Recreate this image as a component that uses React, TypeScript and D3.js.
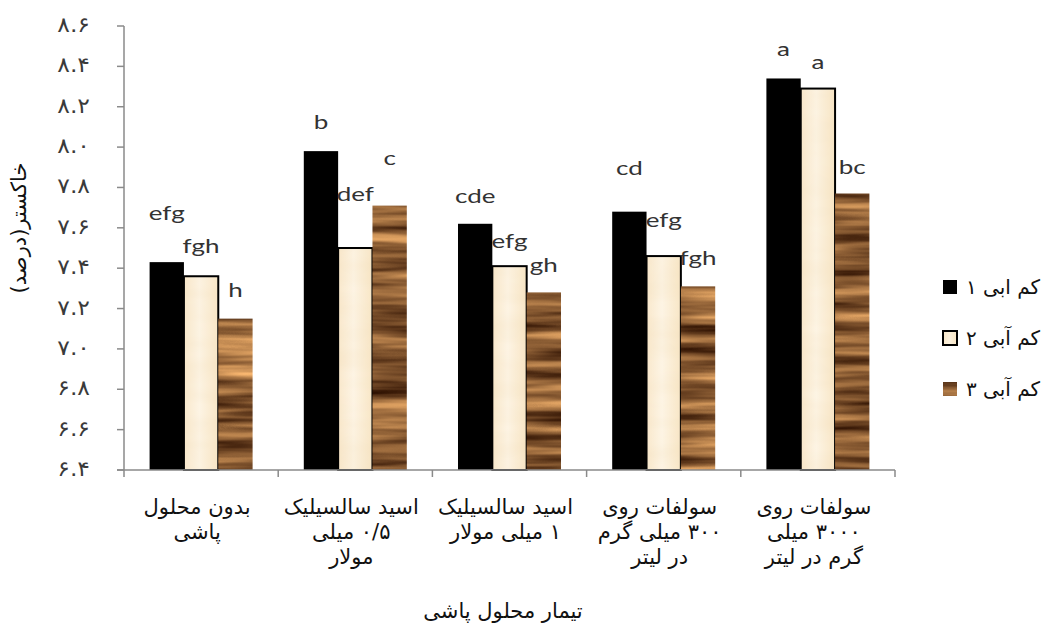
import React from "react";
import * as d3 from "d3";

// ---------- data ----------
const categories: string[][] = [
  ["بدون محلول", "پاشی"],
  ["اسید سالسیلیک", "۰/۵ میلی", "مولار"],
  ["اسید سالسیلیک", "۱ میلی مولار"],
  ["سولفات روی", "۳۰۰ میلی گرم", "در لیتر"],
  ["سولفات روی", "۳۰۰۰ میلی", "گرم در لیتر"],
];
const seriesNames = ["کم ابی ۱", "کم آبی ۲", "کم آبی ۳"];
const stress1 = [7.43, 7.98, 7.62, 7.68, 8.34];
const stress2 = [7.36, 7.5, 7.41, 7.46, 8.29];
const stress3 = [7.15, 7.71, 7.28, 7.31, 7.77];
const letters1 = ["efg", "b", "cde", "cd", "a"];
const letters2 = ["fgh", "def", "efg", "efg", "a"];
const letters3 = ["h", "c", "gh", "fgh", "bc"];
const yTicks = [6.4, 6.6, 6.8, 7.0, 7.2, 7.4, 7.6, 7.8, 8.0, 8.2, 8.4, 8.6];
const yTickLabels = ["۶.۴", "۶.۶", "۶.۸", "۷.۰", "۷.۲", "۷.۴", "۷.۶", "۷.۸", "۸.۰", "۸.۲", "۸.۴", "۸.۶"];
const yTitle = "خاکستر(درصد)";
const xTitle = "تیمار محلول پاشی";

// ---------- layout (manual label lifts, px above bar top) ----------
const labelLift = [
  [42, 22, 21, 37, 22],
  [23, 47, 18, 29, 20],
  [22, 41, 20, 21, 20],
];

const W = 1057;
const H = 637;
const left = 124;
const right = 895;
const top = 26;
const bottom = 470;
const axisColor = "#8a8a8a";
const STRETCH = 1.3;
const faFont = "'DejaVu Sans', sans-serif";

export default function App() {
  const series = [stress1, stress2, stress3];
  const letters = [letters1, letters2, letters3];
  const x0 = d3
    .scaleBand<number>()
    .domain(d3.range(categories.length))
    .range([left, right])
    .paddingInner(0.332)
    .paddingOuter(0.166);
  const x1 = d3
    .scaleBand<number>()
    .domain(d3.range(series.length))
    .range([0, x0.bandwidth()]);
  const y = d3.scaleLinear().domain([6.4, 8.6]).range([bottom, top]);
  const step = (right - left) / categories.length;
  const fills = ["#000000", "url(#creamGrad)", "#8a5a30"];
  const filters = [undefined, "url(#creamTex)", "url(#woodTex)"];

  return (
    <div style={{ position: "absolute", left: 0, top: 0, background: "#fff" }}>
      <svg width={W} height={H} viewBox={`0 0 ${W} ${H}`} style={{ display: "block" }}>
        <defs>
          <linearGradient id="creamGrad" x1="0" x2="1" y1="0" y2="0">
            <stop offset="0" stopColor="#f9e8cc" />
            <stop offset="0.45" stopColor="#fdf4e4" />
            <stop offset="1" stopColor="#f8e6c6" />
          </linearGradient>
          <filter id="woodTex" x="0" y="0" width="100%" height="100%" colorInterpolationFilters="sRGB">
            <feTurbulence type="fractalNoise" baseFrequency="0.006 0.09" numOctaves={3} seed={11} result="n" />
            <feColorMatrix
              in="n"
              type="matrix"
              values="1.1 0 0 0 -0.01  0.9 0 0 0 -0.09  0.6 0 0 0 -0.1  0 0 0 0 1"
              result="c"
            />
            <feComposite in="c" in2="SourceAlpha" operator="in" />
          </filter>
          <filter id="creamTex" x="0" y="0" width="100%" height="100%" colorInterpolationFilters="sRGB">
            <feTurbulence type="fractalNoise" baseFrequency="0.01 0.05" numOctaves={2} seed={3} result="n" />
            <feColorMatrix
              in="n"
              type="matrix"
              values="0 0 0 0 0.93  0 0 0 0 0.84  0 0 0 0 0.68  0.35 0 0 0 -0.1"
              result="c"
            />
            <feComposite in="c" in2="SourceGraphic" operator="over" result="m" />
            <feComposite in="m" in2="SourceAlpha" operator="in" />
          </filter>
        </defs>

        {/* bars */}
        {series.map((vals, s) =>
          vals.map((v, c) => {
            const bx = (x0(c) as number) + (x1(s) as number);
            const by = y(v);
            return (
              <g key={`b${s}-${c}`}>
                <rect
                  x={bx}
                  y={by}
                  width={x1.bandwidth()}
                  height={bottom - by}
                  fill={fills[s]}
                  filter={filters[s]}
                />
                {s === 1 && (
                  <rect
                    x={bx}
                    y={by}
                    width={x1.bandwidth()}
                    height={bottom - by}
                    fill="none"
                    stroke="#000"
                    strokeWidth={2}
                  />
                )}
              </g>
            );
          })
        )}

        {/* letter labels */}
        {series.map((vals, s) =>
          vals.map((v, c) => {
            const cx = (x0(c) as number) + (x1(s) as number) + x1.bandwidth() / 2;
            const ly = y(v) - labelLift[s][c];
            return (
              <text
                key={`l${s}-${c}`}
                transform={`translate(${cx},${ly}) scale(${STRETCH},1)`}
                textAnchor="middle"
                fontFamily="Lato, 'Open Sans', sans-serif"
                fontWeight={400}
                fontSize={20}
                fill="#333"
              >
                {letters[s][c]}
              </text>
            );
          })
        )}

        {/* y axis */}
        <line x1={left} x2={left} y1={top} y2={bottom} stroke={axisColor} strokeWidth={1.5} />
        {yTicks.map((t, i) => (
          <g key={`yt${i}`}>
            <line x1={left - 7} x2={left} y1={y(t)} y2={y(t)} stroke={axisColor} strokeWidth={1.5} />
            <text
              transform={`translate(90,${y(t) + 6}) scale(1.12,1)`}
              textAnchor="end"
              fontFamily={faFont}
              fontSize={21}
              fill="#3a3a3a"
            >
              {yTickLabels[i]}
            </text>
          </g>
        ))}

        {/* x axis */}
        <line x1={left - 7} x2={right} y1={bottom} y2={bottom} stroke={axisColor} strokeWidth={1.5} />
        {d3.range(categories.length + 1).map((i) => (
          <line
            key={`xt${i}`}
            x1={left + i * step}
            x2={left + i * step}
            y1={bottom}
            y2={bottom + 7}
            stroke={axisColor}
            strokeWidth={1.5}
          />
        ))}
        {categories.map((lines, c) => {
          const cx = (x0(c) as number) + x0.bandwidth() / 2 - 4;
          return lines.map((ln, k) => (
            <text
              key={`xl${c}-${k}`}
              x={cx}
              y={514 + k * 25}
              textAnchor="middle"
              direction="rtl"
              fontFamily={faFont}
              fontSize={21}
              fill="#111"
            >
              {ln}
            </text>
          ));
        })}

        {/* axis titles */}
        <text
          x={503}
          y={618}
          textAnchor="middle"
          direction="rtl"
          fontFamily={faFont}
          fontSize={21}
          fill="#111"
        >
          {xTitle}
        </text>
        <text
          transform={`translate(26,228) rotate(-90)`}
          textAnchor="middle"
          direction="rtl"
          fontFamily={faFont}
          fontSize={21}
          fill="#111"
        >
          {yTitle}
        </text>

        {/* legend */}
        {seriesNames.map((name, s) => {
          const cy = 287 + s * 51;
          return (
            <g key={`lg${s}`}>
              <rect x={943} y={cy - 7} width={14} height={14} fill={fills[s]} filter={filters[s]} />
              {s === 1 && (
                <rect x={943} y={cy - 7} width={14} height={14} fill="none" stroke="#000" strokeWidth={2} />
              )}
              <text
                x={966}
                y={cy + 7}
                textAnchor="end"
                direction="rtl"
                fontFamily={faFont}
                fontSize={20}
                fill="#111"
              >
                {name}
              </text>
            </g>
          );
        })}
      </svg>
    </div>
  );
}
